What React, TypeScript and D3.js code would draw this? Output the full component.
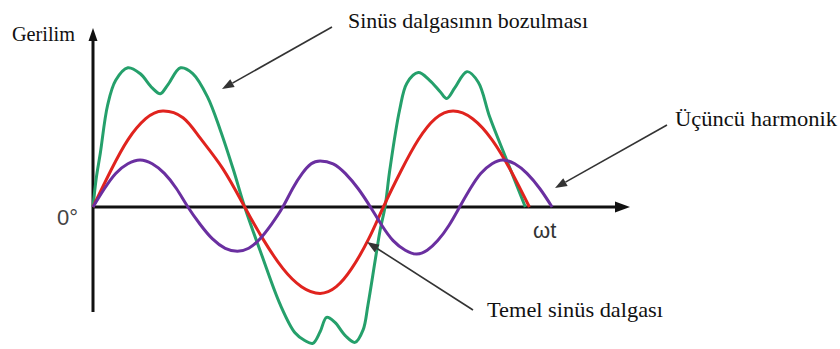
import React from "react";
import * as d3 from "d3";

// ωt in degrees, voltage in units of the fundamental's amplitude
const redX = [0, 22, 43, 65, 86, 111, 132, 160, 187, 210, 234, 257, 280, 300, 319, 340, 358, 380, 401, 422, 444, 468, 492, 515, 538];
const redY = [0, 0.38, 0.7, 0.92, 1.0, 0.93, 0.72, 0.4, 0, -0.34, -0.64, -0.83, -0.9, -0.83, -0.64, -0.33, 0, 0.38, 0.7, 0.92, 1.0, 0.92, 0.7, 0.38, 0];

const purpleX = [0, 14, 28, 43, 58, 73, 88, 103, 117, 132, 147, 163, 178, 192, 206, 220, 234, 246, 258, 269, 280, 296, 311, 327, 342, 356, 370, 385, 399, 412, 425, 439, 452, 465, 478, 492, 505, 520, 535, 551, 566];
const purpleY = [0, 0.19, 0.35, 0.45, 0.49, 0.45, 0.35, 0.19, 0, -0.18, -0.33, -0.43, -0.46, -0.43, -0.33, -0.18, 0, 0.19, 0.35, 0.45, 0.48, 0.45, 0.35, 0.19, 0, -0.19, -0.35, -0.45, -0.49, -0.45, -0.35, -0.19, 0, 0.19, 0.35, 0.45, 0.49, 0.45, 0.35, 0.19, 0];

const greenX = [0, 4, 9, 18, 28, 43, 58, 73, 83, 92, 108, 123, 141, 157, 173, 187, 208, 231, 249, 261, 271, 280, 288, 298, 311, 323, 333, 339, 348, 354, 360, 366, 378, 387, 401, 415, 428, 436, 446, 461, 475, 489, 510, 533];
const greenY = [0, 0.3, 0.56, 1.06, 1.32, 1.45, 1.39, 1.24, 1.18, 1.27, 1.45, 1.39, 1.15, 0.8, 0.39, 0, -0.5, -1.02, -1.31, -1.39, -1.42, -1.3, -1.15, -1.2, -1.34, -1.41, -1.28, -1.02, -0.55, -0.24, 0, 0.39, 1.01, 1.29, 1.4, 1.32, 1.2, 1.13, 1.24, 1.41, 1.3, 0.94, 0.49, 0];

const labels = {
  yAxis: "Gerilim",
  origin: "0°",
  xAxis: "ωt",
  distortion: "Sinüs dalgasının bozulması",
  third: "Üçüncü harmonik",
  fundamental: "Temel sinüs dalgası",
};

const W = 840;
const H = 349;

const x = d3.scaleLinear().domain([0, 360]).range([93, 385]);
const y = d3.scaleLinear().domain([-1, 1]).range([303, 111]);

const smooth = d3
  .line<[number, number]>()
  .x((d) => x(d[0]))
  .y((d) => y(d[1]))
  .curve(d3.curveNatural);

const detailed = d3
  .line<[number, number]>()
  .x((d) => x(d[0]))
  .y((d) => y(d[1]))
  .curve(d3.curveCatmullRom.alpha(0.5));

const zip = (xs: number[], ys: number[]) => xs.map((v, i) => [v, ys[i]] as [number, number]);

function Arrow({ x1, y1, x2, y2, len = 12, half = 4.5, color = "#333", width = 1.6 }: any) {
  const ang = Math.atan2(y2 - y1, x2 - x1);
  const bx = x2 - len * Math.cos(ang);
  const by = y2 - len * Math.sin(ang);
  const px = -Math.sin(ang) * half;
  const py = Math.cos(ang) * half;
  return (
    <g>
      <line x1={x1} y1={y1} x2={bx} y2={by} stroke={color} strokeWidth={width} />
      <path d={`M${x2},${y2}L${bx + px},${by + py}L${bx - px},${by - py}Z`} fill={color} />
    </g>
  );
}

export default function App() {
  const x0 = x(0);
  const y0 = y(0);
  const serif = "'Liberation Serif', 'DejaVu Serif', 'Times New Roman', serif";
  const sans = "'Liberation Sans', Arial, sans-serif";
  return (
    <svg width={W} height={H} style={{ position: "absolute", left: 0, top: 0, background: "#fff" }}>
      {/* axes */}
      <line x1={x0} y1={312} x2={x0} y2={40} stroke="#111" strokeWidth={3} />
      <path d={`M${x0},28L${x0 - 4.5},41L${x0 + 4.5},41Z`} fill="#111" />
      <line x1={x0} y1={y0} x2={618} y2={y0} stroke="#111" strokeWidth={3} />
      <path d={`M630,${y0}L615,${y0 - 5.5}L615,${y0 + 5.5}Z`} fill="#111" />

      {/* curves */}
      <path d={detailed(zip(greenX, greenY)) || ""} fill="none" stroke="#25a06b" strokeWidth={3} strokeLinejoin="round" />
      <path d={smooth(zip(redX, redY)) || ""} fill="none" stroke="#e0231e" strokeWidth={3} />
      <path d={smooth(zip(purpleX, purpleY)) || ""} fill="none" stroke="#6a2fa0" strokeWidth={3} />

      {/* labels */}
      <g fontFamily={serif} fill="#111">
        <text x={12} y={41} fontSize={20} textLength={63} lengthAdjust="spacingAndGlyphs">
          {labels.yAxis}
        </text>
        <text x={348} y={28} fontSize={21} textLength={240} lengthAdjust="spacingAndGlyphs">
          {labels.distortion}
        </text>
        <text x={675} y={126} fontSize={21} textLength={162} lengthAdjust="spacingAndGlyphs">
          {labels.third}
        </text>
        <text x={487} y={317} fontSize={21} textLength={176} lengthAdjust="spacingAndGlyphs">
          {labels.fundamental}
        </text>
      </g>
      <text x={57} y={225} fontFamily={sans} fontSize={22} fill="#444">
        {labels.origin}
      </text>
      <text x={533} y={238} fontFamily={sans} fontSize={22} fill="#333">
        {labels.xAxis}
      </text>

      {/* annotation arrows */}
      <Arrow x1={332} y1={27} x2={222} y2={89} />
      <Arrow x1={667} y1={125} x2={555} y2={188} />
      <Arrow x1={473} y1={310} x2={367} y2={242} />
    </svg>
  );
}
